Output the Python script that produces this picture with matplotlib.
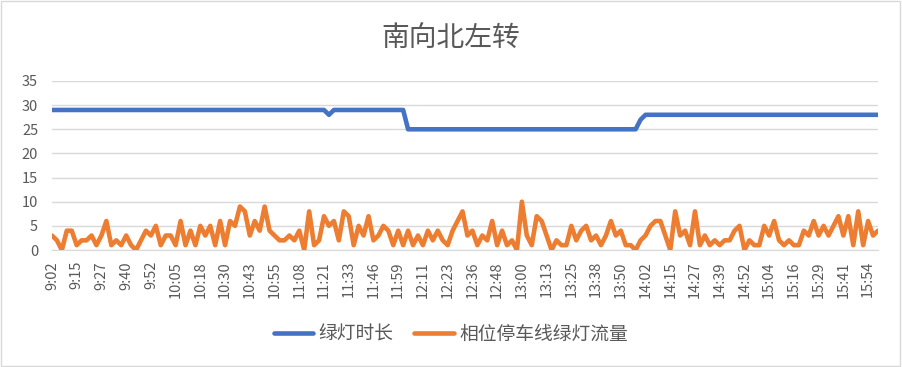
import matplotlib
matplotlib.use("Agg")
import matplotlib.pyplot as plt
import matplotlib.patches as patches
import numpy as np

plt.rcParams['font.family'] = ['Noto Sans CJK SC', 'DejaVu Sans']

# data (one point per signal cycle, labels every 5th cycle)
tick_labels = ['9:02', '9:15', '9:27', '9:40', '9:52', '10:05', '10:18', '10:30',
               '10:43', '10:55', '11:08', '11:21', '11:33', '11:46', '11:59', '12:11',
               '12:23', '12:36', '12:48', '13:00', '13:13', '13:25', '13:38', '13:50',
               '14:02', '14:15', '14:27', '14:39', '14:52', '15:04', '15:16', '15:29',
               '15:41', '15:54']

green_time = [29] * 56 + [28] + [29] * 15 + [25] * 47 + [27] + [28] * 48

green_flow = [3, 2, 0, 4, 4, 1, 2, 2, 3, 1, 3, 6, 1, 2, 1, 3, 1, 0, 2, 4, 3, 5, 1, 3, 3,
              1, 6, 1, 4, 1, 5, 3, 5,
              1, 6, 1, 6, 5, 9, 8, 3, 6, 4, 9, 4, 3, 2, 2, 3, 2, 4, 0, 8, 1, 2, 7, 5,
              6, 2, 8, 7, 1, 5, 3, 7, 2, 3,
              5, 4, 1, 4, 1, 4, 1, 3, 1, 4, 2, 4, 2, 1, 4, 6, 8, 3, 4, 1, 3, 2, 6, 1,
              4, 1, 2, 0, 10, 3, 1, 7, 6,
              3, 0, 2, 1, 1, 5, 2, 4, 5, 2, 3, 1, 3, 6, 3, 4, 1, 1, 0, 2, 3, 5, 6, 6,
              3, 0, 8, 3, 4, 1, 8, 1, 3,
              1, 2, 1, 2, 2, 4, 5, 0, 2, 1, 1, 5, 3, 6, 2, 1, 2, 1, 1, 4, 3, 6, 3, 5,
              3, 5, 7, 3, 7, 1, 8, 1, 6, 3, 4]

series_names = ['绿灯时长', '相位停车线绿灯流量']

text_color = '#595959'
grid_color = '#d9d9d9'

fig = plt.figure(figsize=(9.02, 3.67), dpi=100)
ax = fig.add_axes([0.0576, 0.3188, 0.9158, 0.4605])

x = np.arange(len(green_flow))
ax.plot(x, green_time, color='#4472C4', lw=3.3, solid_joinstyle='round',
        solid_capstyle='round', label=series_names[0], zorder=3)
ax.plot(x, green_flow, color='#ED7D31', lw=3.3, solid_joinstyle='round',
        solid_capstyle='round', label=series_names[1], zorder=3)

ax.set_xlim(0, len(green_flow) - 1)
ax.set_ylim(0, 35)
ax.set_yticks(np.arange(0, 36, 5))
ax.set_xticks(x[::5][:len(tick_labels)])
ax.set_xticklabels(tick_labels, rotation=90)
ax.tick_params(axis='both', length=0, colors=text_color, labelsize=10.5)
ax.tick_params(axis='x', pad=8)
ax.tick_params(axis='y', pad=10)
ax.grid(axis='y', color=grid_color, lw=1)
ax.set_axisbelow(True)
for side in ['top', 'left', 'right']:
    ax.spines[side].set_visible(False)
ax.spines['bottom'].set_color(grid_color)

fig.text(0.5, 0.893, '南向北左转', ha='center', va='center', fontsize=20, color=text_color)

fig.legend(loc='center', bbox_to_anchor=(0.5, 0.09), ncol=2, frameon=False,
           fontsize=13.5, labelcolor=text_color, handlelength=2.1, handletextpad=0.3,
           columnspacing=1.1)

# chart border
fig.patches.append(patches.Rectangle((0.001, 0.002), 0.997, 0.995, transform=fig.transFigure,
                                     fill=False, edgecolor=grid_color, lw=1))

fig.savefig('out.png', dpi=100)
